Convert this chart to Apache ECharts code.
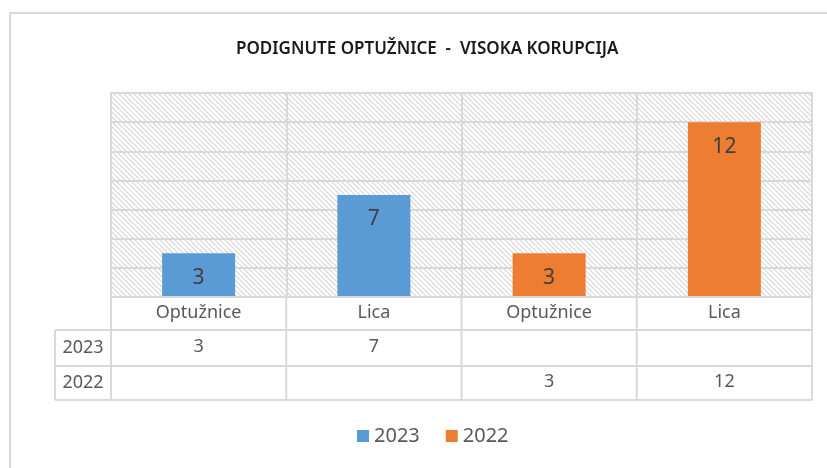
<!DOCTYPE html>
<html>
<head>
<meta charset="utf-8">
<script src="https://cdn.jsdelivr.net/npm/echarts@6/dist/echarts.min.js"></script>
<style>
  html, body { margin: 0; padding: 0; background: #fff; }
  #main { width: 827px; height: 468px; }
</style>
</head>
<body>
<div id="main"></div>
<script>
var categories = ['Optužnice', 'Lica', 'Optužnice', 'Lica'];
var seriesNames = ['2023', '2022'];
var values2023 = [3, 7, null, null];
var values2022 = [null, null, 3, 12];
var yTicks = { min: 0, max: 14, interval: 2 };

// raster prugice za pozadinu
function makeHatch() {
    var c = document.createElement('canvas');
    c.width = 5; c.height = 5;
    var ctx = c.getContext('2d');
    ctx.fillStyle = '#fff';
    ctx.fillRect(0, 0, 5, 5);
    ctx.strokeStyle = '#d6d6d6';
    ctx.lineWidth = 1.2;
    ctx.beginPath();
    ctx.moveTo(-1, -1); ctx.lineTo(6, 6);
    ctx.moveTo(-1, 4); ctx.lineTo(1, 6);
    ctx.moveTo(4, -1); ctx.lineTo(6, 1);
    ctx.stroke();
    return c;
}

function cellText(arr) {
    return arr.map(function (v) { return v == null ? '' : String(v); });
}

var L = 111, R = 812, T = 93, B = 297;
var rowY = [297, 330, 366, 400];
var colX = [111, 286.25, 461.5, 636.75, 812];
var lineColor = '#d9d9d9';
var font = 'Noto Sans';
var tableFont = 18;

var graphics = [];
graphics.push({ type: 'rect', shape: { x: 10, y: 13, width: 840, height: 480 },
    style: { fill: 'none', stroke: lineColor, lineWidth: 2 }, silent: true });
graphics.push({ type: 'rect', shape: { x: L, y: T, width: R - L, height: B - T },
    style: { fill: 'none', stroke: lineColor, lineWidth: 2 }, silent: true, z: 10 });
rowY.forEach(function (y, i) {
    graphics.push({ type: 'line', shape: { x1: i === 0 ? L : 55, y1: y, x2: R, y2: y },
        style: { stroke: lineColor, lineWidth: 2 }, silent: true });
});
colX.forEach(function (x) {
    graphics.push({ type: 'line', shape: { x1: x, y1: B, x2: x, y2: 400 },
        style: { stroke: lineColor, lineWidth: 2 }, silent: true });
});
graphics.push({ type: 'line', shape: { x1: 55, y1: 330, x2: 55, y2: 400 },
    style: { stroke: lineColor, lineWidth: 2 }, silent: true });
graphics.push({ type: 'text', x: 83, y: 348, style: { text: seriesNames[0], fill: '#595959',
    font: tableFont + 'px "' + font + '"', align: 'center', verticalAlign: 'middle' } });
graphics.push({ type: 'text', x: 83, y: 383, style: { text: seriesNames[1], fill: '#595959',
    font: tableFont + 'px "' + font + '"', align: 'center', verticalAlign: 'middle' } });

var myChart = echarts.init(document.getElementById('main'));
var option = {
    backgroundColor: '#fff',
    animation: false,
    title: {
        text: 'PODIGNUTE OPTUŽNICE  -  VISOKA KORUPCIJA',
        left: 231,
        top: 36,
        textStyle: { color: '#1a1a1a', fontSize: 17, fontWeight: 600, fontFamily: font }
    },
    legend: {
        bottom: 17,
        left: 352,
        itemWidth: 12,
        itemHeight: 12,
        itemGap: 26,
        icon: 'rect',
        textStyle: { color: '#595959', fontSize: 20, fontFamily: font },
        data: seriesNames
    },
    grid: {
        left: L, right: 827 - R, top: T, bottom: 468 - B,
        show: true,
        borderWidth: 0,
        backgroundColor: { image: makeHatch(), repeat: 'repeat' }
    },
    xAxis: [
        {
            type: 'category',
            data: categories,
            axisLine: { show: false },
            axisTick: { show: false },
            axisLabel: { color: '#595959', fontSize: tableFont, fontFamily: font, margin: 7 },
            splitLine: { show: true, lineStyle: { color: lineColor, width: 2 } }
        },
        {
            type: 'category',
            position: 'bottom',
            offset: 35,
            data: cellText(values2023),
            axisLine: { show: false },
            axisTick: { show: false },
            axisLabel: { color: '#595959', fontSize: tableFont, fontFamily: font, margin: 6 }
        },
        {
            type: 'category',
            position: 'bottom',
            offset: 70,
            data: cellText(values2022),
            axisLine: { show: false },
            axisTick: { show: false },
            axisLabel: { color: '#595959', fontSize: tableFont, fontFamily: font, margin: 6 }
        }
    ],
    yAxis: {
        type: 'value',
        min: yTicks.min,
        max: yTicks.max,
        interval: yTicks.interval,
        axisLine: { show: false },
        axisTick: { show: false },
        axisLabel: { show: false },
        splitLine: { lineStyle: { color: lineColor, width: 2 } }
    },
    series: [
        {
            name: seriesNames[0],
            type: 'bar',
            data: values2023,
            barWidth: 73,
            barGap: '-100%',
            itemStyle: { color: '#5b9bd5' },
            label: { show: true, position: 'insideTop', distance: 14,
                color: '#404040', fontSize: 21, fontFamily: font },
            z: 5
        },
        {
            name: seriesNames[1],
            type: 'bar',
            data: values2022,
            barWidth: 73,
            barGap: '-100%',
            itemStyle: { color: '#ed7d31' },
            label: { show: true, position: 'insideTop', distance: 14,
                color: '#404040', fontSize: 21, fontFamily: font },
            z: 5
        }
    ],
    graphic: graphics
};
myChart.setOption(option);
</script>
</body>
</html>
